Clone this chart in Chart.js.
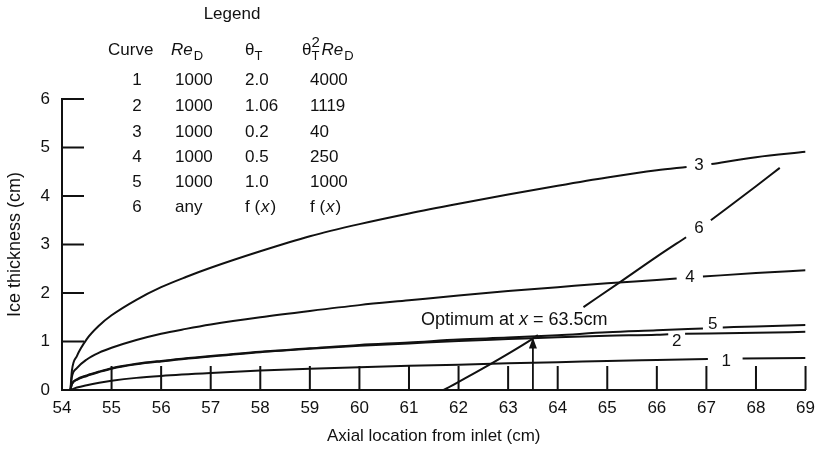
<!DOCTYPE html>
<html>
<head>
<meta charset="utf-8">
<script src="https://cdn.jsdelivr.net/npm/chart.js@4.4.1/dist/chart.umd.min.js"></script>
<style>
  html, body { margin: 0; padding: 0; background: #fff; }
  #wrap { width: 823px; height: 454px; }
</style>
</head>
<body>
<div id="wrap"><canvas id="iceChart" width="823" height="454"></canvas></div>
<script>
// axis ticks
const xTicks = [54, 55, 56, 57, 58, 59, 60, 61, 62, 63, 64, 65, 66, 67, 68, 69];
const yTicks = [0, 1, 2, 3, 4, 5, 6];

// curves (null = gap left for the curve number)
const curve1X = [54.17, 54.3, 54.5, 54.75, 55, 55.5, 56, 57, 58, 59, 60, 61, 62, 63, 64, 65, 66, 67.03, 67.4, 67.73, 69];
const curve1Y = [0, 0.05, 0.1, 0.15, 0.19, 0.25, 0.29, 0.35, 0.4, 0.44, 0.47, 0.5, 0.52, 0.55, 0.57, 0.6, 0.62, 0.64, null, 0.65, 0.66];

const curve2X = [54.17, 54.2, 54.3, 54.5, 54.75, 55, 55.5, 56, 57, 58, 59, 60, 61, 62, 63, 64, 65, 66, 66.23, 66.4, 66.57, 68, 69];
const curve2Y = [0, 0.12, 0.21, 0.29, 0.37, 0.44, 0.53, 0.59, 0.69, 0.78, 0.85, 0.91, 0.96, 1.01, 1.05, 1.09, 1.12, 1.14, 1.15, null, 1.16, 1.18, 1.2];

const curve3X = [54.17, 54.2, 54.3, 54.5, 54.75, 55, 55.5, 56, 56.5, 57, 58, 59, 60, 61, 62, 63, 64, 65, 66, 66.6, 66.85, 67.1, 68, 69];
const curve3Y = [0, 0.4, 0.7, 1.05, 1.33, 1.54, 1.86, 2.12, 2.33, 2.52, 2.86, 3.17, 3.42, 3.64, 3.84, 4.03, 4.21, 4.38, 4.53, 4.6, null, 4.66, 4.8, 4.91];

const curve4X = [54.17, 54.2, 54.3, 54.5, 54.75, 55, 55.5, 56, 56.5, 57, 58, 59, 60, 61, 62, 63, 64, 65, 66, 66.4, 66.65, 66.93, 68, 69];
const curve4Y = [0, 0.27, 0.45, 0.63, 0.77, 0.87, 1.03, 1.16, 1.26, 1.35, 1.5, 1.63, 1.75, 1.85, 1.95, 2.04, 2.12, 2.2, 2.27, 2.3, null, 2.34, 2.41, 2.47];

const curve5X = [54.17, 54.2, 54.3, 54.5, 54.75, 55, 55.5, 56, 57, 58, 59, 60, 61, 62, 63, 64, 65, 66, 66.93, 67.13, 67.33, 68, 69];
const curve5Y = [0, 0.12, 0.22, 0.3, 0.38, 0.45, 0.54, 0.6, 0.7, 0.79, 0.86, 0.93, 0.98, 1.04, 1.08, 1.13, 1.19, 1.23, 1.27, null, 1.29, 1.31, 1.34];

const curve6X = [61.7, 62.5, 63.5, 63.6, 64.0, 64.52, 65.28, 66.0, 66.59, 66.85, 67.09, 68.0, 68.48];
const curve6Y = [0, 0.45, 1.06, 1.13, null, 1.71, 2.24, 2.75, 3.15, null, 3.5, 4.2, 4.58];

// curve numbers placed in the gaps
const curveNames = ['1', '2', '3', '4', '5', '6'];
const curveNameX = [67.4, 66.4, 66.85, 66.67, 67.13, 66.85];
const curveNameY = [0.6, 1.01, 4.64, 2.33, 1.35, 3.34];

// legend table
const legendCurve = ['1', '2', '3', '4', '5', '6'];
const legendRe = ['1000', '1000', '1000', '1000', '1000', 'any'];
const legendTheta = ['2.0', '1.06', '0.2', '0.5', '1.0', 'f(x)'];
const legendProduct = ['4000', '1119', '40', '250', '1000', 'f(x)'];

const optimumX = 63.5;
const optimumY = 1.08;

const INK = '#111';
const FONT = '"Liberation Sans", Arial, Helvetica, sans-serif';

function pts(xs, ys) {
  return xs.map((x, i) => ({ x: x, y: ys[i] }));
}

function curveSet(xs, ys) {
  return {
    data: pts(xs, ys),
    borderColor: INK,
    borderWidth: 2,
    pointRadius: 0,
    fill: false,
    spanGaps: false,
    cubicInterpolationMode: 'monotone'
  };
}

// "f (x)" with an italic x
function drawFx(ctx, x, y, size) {
  ctx.font = size + 'px ' + FONT;
  ctx.fillText('f (', x, y);
  let w = ctx.measureText('f (').width;
  ctx.font = 'italic ' + size + 'px ' + FONT;
  ctx.fillText('x', x + w + 1, y);
  w += ctx.measureText('x').width + 2;
  ctx.font = size + 'px ' + FONT;
  ctx.fillText(')', x + w, y);
}

const extras = {
  id: 'extras',
  afterDatasetsDraw(chart) {
    const ctx = chart.ctx;
    const xs = chart.scales.x;
    const ys = chart.scales.y;
    const y0 = ys.getPixelForValue(0);
    const x0 = xs.getPixelForValue(54);

    ctx.save();
    ctx.strokeStyle = INK;
    ctx.fillStyle = INK;
    ctx.lineWidth = 2;

    // inward tick marks
    ctx.beginPath();
    xTicks.slice(1).forEach(v => {
      const px = xs.getPixelForValue(v);
      ctx.moveTo(px, y0);
      ctx.lineTo(px, y0 - 24);
    });
    yTicks.slice(1).forEach(v => {
      const py = ys.getPixelForValue(v);
      ctx.moveTo(x0, py);
      ctx.lineTo(x0 + 22, py);
    });
    ctx.stroke();

    // optimum arrow
    const ax = xs.getPixelForValue(optimumX);
    const ay = ys.getPixelForValue(optimumY);
    ctx.lineWidth = 1.8;
    ctx.beginPath();
    ctx.moveTo(ax, y0);
    ctx.lineTo(ax, ay + 6);
    ctx.stroke();
    ctx.beginPath();
    ctx.moveTo(ax, ay);
    ctx.lineTo(ax - 4, ay + 11);
    ctx.lineTo(ax + 4, ay + 11);
    ctx.closePath();
    ctx.fill();

    // curve numbers
    ctx.font = '17px ' + FONT;
    ctx.textAlign = 'center';
    ctx.textBaseline = 'middle';
    curveNames.forEach((n, i) => {
      ctx.fillText(n, xs.getPixelForValue(curveNameX[i]), ys.getPixelForValue(curveNameY[i]));
    });

    // optimum note
    ctx.textAlign = 'left';
    let tx = xs.getPixelForValue(61.24);
    const ty = ys.getPixelForValue(1.44);
    ctx.font = '18px ' + FONT;
    ctx.fillText('Optimum at ', tx, ty);
    tx += ctx.measureText('Optimum at ').width;
    ctx.font = 'italic 18px ' + FONT;
    ctx.fillText('x', tx, ty);
    tx += ctx.measureText('x').width;
    ctx.font = '18px ' + FONT;
    ctx.fillText(' = ' + optimumX + 'cm', tx, ty);

    // legend table
    const size = 17;
    const sub = 13;
    ctx.font = size + 'px ' + FONT;
    ctx.textAlign = 'center';
    ctx.fillText('Legend', 232, 14);

    const hy = 50;
    ctx.textAlign = 'left';
    ctx.fillText('Curve', 108, hy);

    // Re_D
    ctx.font = 'italic ' + size + 'px ' + FONT;
    ctx.fillText('Re', 171, hy);
    let w = ctx.measureText('Re').width;
    ctx.font = sub + 'px ' + FONT;
    ctx.fillText('D', 171 + w + 1, hy + 6);

    // theta_T
    ctx.font = size + 'px ' + FONT;
    ctx.fillText('\u03b8', 245, hy);
    w = ctx.measureText('\u03b8').width;
    ctx.font = sub + 'px ' + FONT;
    ctx.fillText('T', 245 + w, hy + 6);

    // theta_T^2 Re_D
    ctx.font = size + 'px ' + FONT;
    ctx.fillText('\u03b8', 302, hy);
    w = ctx.measureText('\u03b8').width;
    ctx.font = sub + 'px ' + FONT;
    ctx.fillText('T', 302 + w, hy + 6);
    ctx.font = '15px ' + FONT;
    ctx.fillText('2', 302 + w, hy - 7);
    const px = 302 + w + 10;
    ctx.font = 'italic ' + size + 'px ' + FONT;
    ctx.fillText('Re', px, hy);
    w = ctx.measureText('Re').width;
    ctx.font = sub + 'px ' + FONT;
    ctx.fillText('D', px + w + 1, hy + 6);

    const rowY = [80, 106, 132, 157, 182, 207];
    legendCurve.forEach((c, i) => {
      const ry = rowY[i];
      ctx.font = size + 'px ' + FONT;
      ctx.textAlign = 'center';
      ctx.fillText(c, 137, ry);
      ctx.textAlign = 'left';
      ctx.fillText(legendRe[i], 175, ry);
      if (legendTheta[i] === 'f(x)') drawFx(ctx, 245, ry, size);
      else { ctx.font = size + 'px ' + FONT; ctx.fillText(legendTheta[i], 245, ry); }
      if (legendProduct[i] === 'f(x)') drawFx(ctx, 310, ry, size);
      else { ctx.font = size + 'px ' + FONT; ctx.fillText(legendProduct[i], 310, ry); }
    });

    ctx.restore();
  }
};

new Chart(document.getElementById('iceChart'), {
  type: 'line',
  data: {
    datasets: [
      curveSet(curve1X, curve1Y),
      curveSet(curve2X, curve2Y),
      curveSet(curve3X, curve3Y),
      curveSet(curve4X, curve4Y),
      curveSet(curve5X, curve5Y),
      curveSet(curve6X, curve6Y)
    ]
  },
  options: {
    responsive: false,
    animation: false,
    events: [],
    layout: { padding: { top: 99, right: 15, left: 0, bottom: 0 } },
    plugins: { legend: { display: false }, tooltip: { enabled: false } },
    scales: {
      x: {
        type: 'linear',
        min: 54,
        max: 69,
        afterFit: s => { s.height = 64; },
        afterBuildTicks: s => { s.ticks = xTicks.map(v => ({ value: v })); },
        grid: { display: false, drawTicks: false },
        border: { display: true, color: INK, width: 2 },
        ticks: { color: INK, font: { family: FONT, size: 17 }, padding: 8, maxRotation: 0 },
        title: {
          display: true,
          text: 'Axial location from inlet (cm)',
          color: INK,
          font: { family: FONT, size: 17 },
          padding: { top: 0, bottom: 7 }
        }
      },
      y: {
        min: 0,
        max: 6,
        afterFit: s => { s.width = 62; },
        afterBuildTicks: s => { s.ticks = yTicks.map(v => ({ value: v })); },
        grid: { display: false, drawTicks: false },
        border: { display: true, color: INK, width: 2 },
        ticks: { color: INK, font: { family: FONT, size: 17 }, padding: 12 },
        title: {
          display: true,
          text: 'Ice thickness (cm)',
          color: INK,
          font: { family: FONT, size: 18 },
          padding: { top: 4, bottom: 0 }
        }
      }
    }
  },
  plugins: [extras]
});
</script>
</body>
</html>
